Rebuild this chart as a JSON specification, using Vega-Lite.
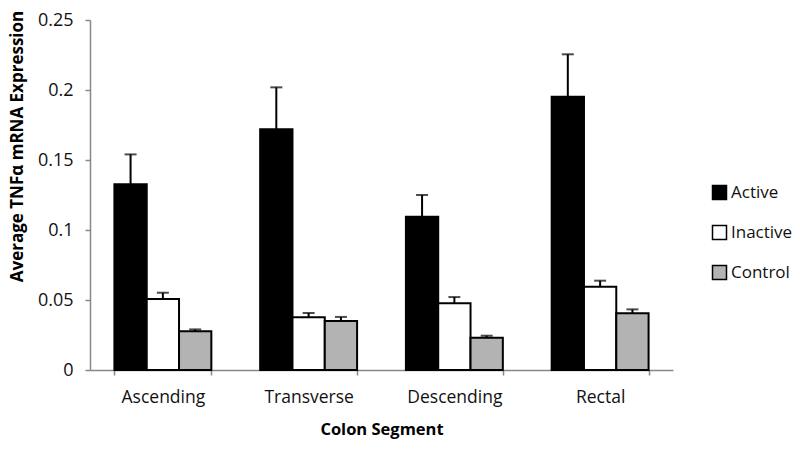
{
  "$schema": "https://vega.github.io/schema/vega-lite/v6.json",
  "width": 583,
  "height": 350,
  "autosize": "none",
  "padding": {"left": 90, "top": 20, "right": 127, "bottom": 81},
  "background": "white",
  "config": {
    "view": {"stroke": null},
    "font": "Open Sans",
    "axis": {"labelFont": "Open Sans", "titleFont": "Open Sans", "labelColor": "#111", "titleColor": "#000", "grid": false, "domainColor": "#888", "tickColor": "#888", "domainWidth": 1.5, "tickWidth": 1.5}
  },
  "data": {
    "values": [
      {"segment": "Ascending", "group": "Active", "value": 0.1326, "upper": 0.154},
      {"segment": "Ascending", "group": "Inactive", "value": 0.0507, "upper": 0.0552},
      {"segment": "Ascending", "group": "Control", "value": 0.0276, "upper": 0.029},
      {"segment": "Transverse", "group": "Active", "value": 0.1719, "upper": 0.2019},
      {"segment": "Transverse", "group": "Inactive", "value": 0.0376, "upper": 0.0407},
      {"segment": "Transverse", "group": "Control", "value": 0.035, "upper": 0.0379},
      {"segment": "Descending", "group": "Active", "value": 0.1095, "upper": 0.125},
      {"segment": "Descending", "group": "Inactive", "value": 0.0476, "upper": 0.0521},
      {"segment": "Descending", "group": "Control", "value": 0.0231, "upper": 0.0245},
      {"segment": "Rectal", "group": "Active", "value": 0.1952, "upper": 0.2255},
      {"segment": "Rectal", "group": "Inactive", "value": 0.0595, "upper": 0.0638},
      {"segment": "Rectal", "group": "Control", "value": 0.0405, "upper": 0.0433}
    ]
  },
  "encoding": {
    "x": {
      "field": "segment", "type": "nominal",
      "sort": ["Ascending", "Transverse", "Descending", "Rectal"],
      "scale": {"paddingInner": 0.335, "paddingOuter": 0.1675},
      "axis": {"title": "Colon Segment", "titleFontSize": 16.5, "titleFontWeight": "bold", "titlePadding": 16, "labelAngle": 0, "labelFontSize": 17.5, "labelPadding": 13, "tickBand": "extent", "tickSize": 5}
    },
    "xOffset": {"field": "group", "type": "nominal", "sort": ["Active", "Inactive", "Control"], "scale": {"paddingInner": 0, "paddingOuter": 0}}
  },
  "layer": [
    {
      "mark": {"type": "bar", "stroke": "black", "strokeWidth": 2},
      "encoding": {
        "y": {
          "field": "value", "type": "quantitative",
          "scale": {"domain": [0, 0.25], "nice": false},
          "axis": {"title": "Average TNFα  mRNA Expression", "titleFontSize": 17, "titleFontWeight": "bold", "titleX": -73, "titleY": 126, "titleAlign": "center", "titleBaseline": "middle", "labelFontSize": 18, "labelPadding": 12, "tickSize": 5, "values": [0, 0.05, 0.1, 0.15, 0.2, 0.25], "labelExpr": "datum.value == 0 ? '0' : format(datum.value, '.3~f')"}
        },
        "fill": {
          "field": "group", "type": "nominal",
          "sort": ["Active", "Inactive", "Control"],
          "scale": {"domain": ["Active", "Inactive", "Control"], "range": ["#000000", "#ffffff", "#b3b3b3"]},
          "legend": {"title": null, "orient": "none", "legendX": 621, "legendY": 164, "symbolType": "square", "symbolSize": 196, "symbolStrokeColor": "black", "symbolStrokeWidth": 1.5, "labelFontSize": 17, "labelFont": "Open Sans", "labelColor": "#111", "labelOffset": 3, "rowPadding": 19}
        }
      }
    },
    {
      "mark": {"type": "rule", "color": "black", "strokeWidth": 2},
      "encoding": {
        "y": {"field": "value", "type": "quantitative"},
        "y2": {"field": "upper"}
      }
    },
    {
      "mark": {"type": "tick", "color": "black", "thickness": 2, "size": 12, "orient": "horizontal"},
      "encoding": {
        "y": {"field": "upper", "type": "quantitative"}
      }
    }
  ]
}
